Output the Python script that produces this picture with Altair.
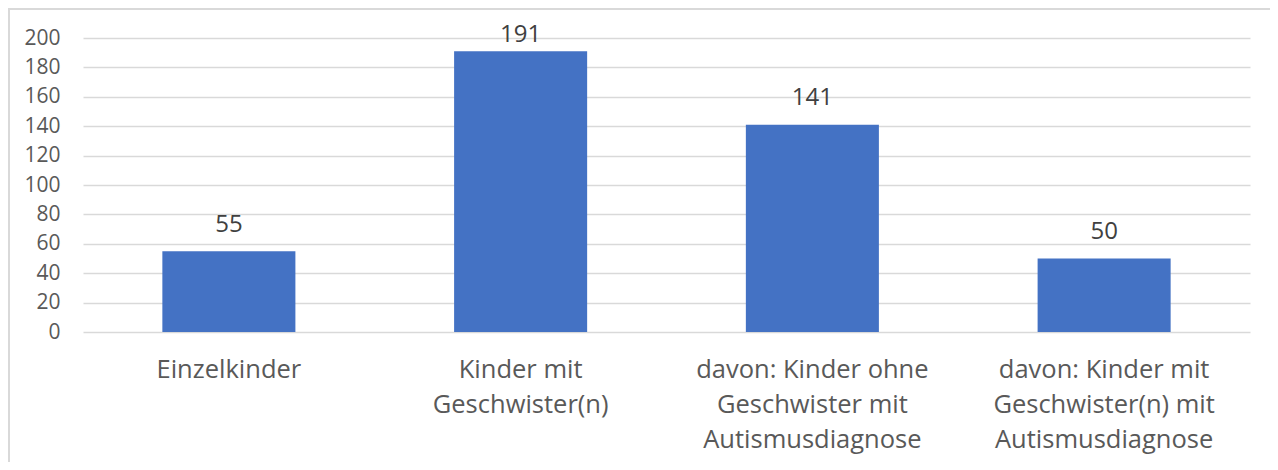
import altair as alt
import pandas as pd

categories = [
    "Einzelkinder",
    "Kinder mit|Geschwister(n)",
    "davon: Kinder ohne|Geschwister mit|Autismusdiagnose",
    "davon: Kinder mit|Geschwister(n) mit|Autismusdiagnose",
]
values = [55, 191, 141, 50]
y_ticks = [0, 20, 40, 60, 80, 100, 120, 140, 160, 180, 200]

df = pd.DataFrame({"category": categories, "value": values})

FONT = "Open Sans"

x_scale = alt.Scale(domain=categories, paddingInner=0.544, paddingOuter=0.272)
y_scale = alt.Scale(domain=[0, 200], nice=False, zero=True)

x_axis = alt.Axis(
    title=None,
    labelAngle=0,
    domain=False,
    ticks=False,
    grid=False,
    labelExpr="split(datum.label, '|')",
    labelFont=FONT,
    labelFontSize=25.5,
    labelColor="#595959",
    labelPadding=25,
    labelLineHeight=35,
    labelBaseline="top",
    labelLimit=400,
)
y_axis = alt.Axis(
    title=None,
    values=y_ticks,
    domain=False,
    ticks=False,
    grid=True,
    gridColor="#d9d9d9",
    gridWidth=1.3,
    labelOverlap=False,
    labelFont=FONT,
    labelFontSize=21,
    labelColor="#595959",
    labelPadding=23,
)

bars = alt.Chart(df).mark_bar(color="#4472c4").encode(
    x=alt.X("category:N", sort=categories, scale=x_scale, axis=x_axis),
    y=alt.Y("value:Q", scale=y_scale, axis=y_axis),
)

labels = alt.Chart(df).transform_calculate(
    label_pos="min(datum.value, 184.2)"
).mark_text(
    font=FONT, fontSize=24, color="#404040", baseline="alphabetic", dy=-19.6
).encode(
    x=alt.X("category:N", sort=categories, scale=x_scale, axis=x_axis),
    y=alt.Y("label_pos:Q", scale=y_scale, axis=y_axis),
    text=alt.Text("value:Q"),
)

border = alt.Chart(df).mark_rect(
    fill=None, stroke="#d9d9d9", strokeWidth=1.5
).encode(
    x=alt.value(-74), x2=alt.value(1300),
    y=alt.value(-29), y2=alt.value(600),
)

chart = alt.layer(border, bars, labels).properties(
    width=1167,
    height=294,
    padding={"left": 75, "top": 30, "right": 20, "bottom": 130},
    autosize=alt.AutoSizeParams(type="none"),
    background="white",
).configure_view(strokeWidth=0, stroke="transparent")

chart.save("out.html", embed_options={"renderer": "svg", "actions": False})
